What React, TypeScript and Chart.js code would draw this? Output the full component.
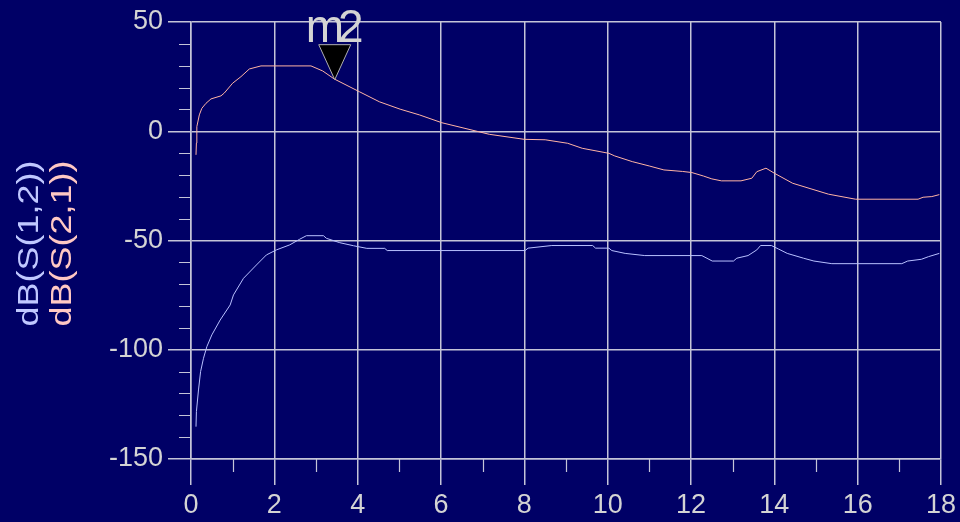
import React, { useEffect, useRef } from "react";
import { Chart, registerables } from "chart.js";

Chart.register(...registerables);

// ---- data (frequency in GHz, magnitude in dB) ----
const s21Freq = [0.12, 0.13, 0.14, 0.2, 0.26, 0.36, 0.48, 0.72, 0.8, 1.0, 1.2, 1.4, 1.68, 2.88, 3.16, 3.44, 4.04, 4.52, 5.02, 5.48, 6.02, 7.16, 8.0, 8.5, 9.04, 9.39, 10.03, 10.17, 10.59, 11.0, 11.35, 11.8, 12.02, 12.3, 12.5, 12.73, 13.2, 13.46, 13.58, 13.8, 14.0, 14.44, 15.3, 15.95, 17.45, 17.57, 17.78, 17.96];
const s21Db = [-10.8, -5.4, 2.1, 7.5, 10.5, 12.8, 14.8, 16.2, 17.5, 22.0, 25.0, 28.5, 29.9, 29.9, 27.6, 23.9, 18.1, 13.5, 10.1, 7.5, 3.9, -1.4, -3.7, -3.9, -5.5, -7.8, -10.1, -11.3, -13.9, -15.9, -17.7, -18.4, -18.9, -20.5, -21.8, -22.7, -22.7, -21.5, -18.5, -16.9, -19.2, -23.8, -28.8, -31.1, -31.1, -30.2, -29.9, -29.0];

const s12Freq = [0.12, 0.13, 0.18, 0.23, 0.3, 0.38, 0.5, 0.7, 0.94, 1.02, 1.26, 1.57, 1.81, 2.05, 2.37, 2.61, 2.77, 3.18, 3.25, 3.57, 3.9, 4.22, 4.65, 4.71, 8.02, 8.09, 8.66, 9.64, 9.71, 10.03, 10.1, 10.42, 10.89, 12.26, 12.51, 13.02, 13.1, 13.37, 13.58, 13.67, 13.93, 14.1, 14.31, 14.7, 14.95, 15.38, 17.06, 17.2, 17.53, 17.7, 17.96];
const s12Db = [-135.2, -128.3, -118.4, -110.0, -103.9, -98.6, -93.2, -86.4, -79.5, -74.9, -67.3, -61.2, -56.6, -54.3, -52.0, -49.4, -47.8, -47.8, -49.0, -51.0, -52.4, -53.6, -53.6, -54.6, -54.6, -53.5, -52.3, -52.3, -53.5, -53.5, -54.6, -55.9, -56.9, -56.9, -59.4, -59.4, -58.1, -56.9, -54.3, -52.3, -52.3, -53.9, -55.9, -58.1, -59.4, -60.6, -60.6, -59.4, -58.6, -57.4, -55.9];

const xTickValues = [0, 2, 4, 6, 8, 10, 12, 14, 16, 18];
const xMinorTicks = [1, 3, 5, 7, 9, 11, 13, 15, 17];
const yTickValues = [50, 0, -50, -100, -150];
const yMinorTicks = [40, 30, 20, 10, -10, -20, -30, -40, -60, -70, -80, -90, -110, -120, -130, -140];

const yTitles = ["dB(S(1,2))", "dB(S(2,1))"];
const markerLabel = "m2";
const markerFreq = 3.45;
const markerDb = 23.6;

// ---- styles ----
const BG = "#000066";
const GRID = "#c4c4d8";
const TEXT = "#d4d4d4";
const S21_COLOR = "#ffb4a4";
const S12_COLOR = "#b8c0ff";
const S21_TITLE = "#ffc8c4";
const S12_TITLE = "#c0c8ff";
const FONT = "'Liberation Sans', Arial, sans-serif";

const decorPlugin = {
  id: "decor",
  beforeDraw(chart: any) {
    const ctx = chart.ctx;
    ctx.save();
    ctx.fillStyle = BG;
    ctx.fillRect(0, 0, chart.width, chart.height);
    ctx.restore();
  },
  afterDraw(chart: any) {
    const ctx = chart.ctx;
    const xs = chart.scales.x;
    const ys = chart.scales.y;
    const area = chart.chartArea;
    ctx.save();
    // minor ticks
    ctx.strokeStyle = GRID;
    ctx.lineWidth = 1.2;
    ctx.beginPath();
    for (const v of yMinorTicks) {
      const y = Math.round(ys.getPixelForValue(v)) + 0.5;
      ctx.moveTo(area.left - 12, y);
      ctx.lineTo(area.left, y);
    }
    for (const v of xMinorTicks) {
      const x = Math.round(xs.getPixelForValue(v)) + 0.5;
      ctx.moveTo(x, area.bottom);
      ctx.lineTo(x, area.bottom + 13);
    }
    ctx.stroke();

    // y axis titles (two colours)
    const cy = (area.top + area.bottom) / 2 + 3;
    const cols = [S12_TITLE, S21_TITLE];
    const cxs = [30, 63];
    ctx.font = `30px ${FONT}`;
    ctx.textAlign = "center";
    ctx.textBaseline = "middle";
    yTitles.forEach((t, i) => {
      ctx.save();
      ctx.translate(cxs[i], cy);
      ctx.rotate(-Math.PI / 2);
      ctx.scale(1.2, 1);
      ctx.fillStyle = cols[i];
      ctx.fillText(t, 0, 0);
      ctx.restore();
    });

    // marker
    const mx = xs.getPixelForValue(markerFreq);
    const my = ys.getPixelForValue(markerDb);
    ctx.beginPath();
    ctx.moveTo(mx, my);
    ctx.lineTo(mx - 16, my - 35);
    ctx.lineTo(mx + 16, my - 35);
    ctx.closePath();
    ctx.fillStyle = "#000000";
    ctx.fill();
    ctx.strokeStyle = "#b0b0b0";
    ctx.lineWidth = 1;
    ctx.stroke();

    ctx.font = `46px ${FONT}`;
    (ctx as any).letterSpacing = "-6px";
    ctx.fillStyle = TEXT;
    ctx.textAlign = "left";
    ctx.textBaseline = "alphabetic";
    ctx.fillText(markerLabel, mx - 29, my - 38);
    ctx.restore();
  },
};

export default function App() {
  const ref = useRef<HTMLCanvasElement | null>(null);

  useEffect(() => {
    document.body.style.margin = "0";
    document.body.style.background = BG;
    const canvas = ref.current;
    if (!canvas) return;
    const chart = new Chart(canvas, {
      type: "line",
      data: {
        datasets: [
          {
            label: "dB(S(2,1))",
            data: s21Freq.map((f, i) => ({ x: f, y: s21Db[i] })),
            borderColor: S21_COLOR,
            borderWidth: 1,
            pointRadius: 0,
            tension: 0,
            fill: false,
          },
          {
            label: "dB(S(1,2))",
            data: s12Freq.map((f, i) => ({ x: f, y: s12Db[i] })),
            borderColor: S12_COLOR,
            borderWidth: 1,
            pointRadius: 0,
            tension: 0,
            fill: false,
          },
        ],
      },
      options: {
        animation: false,
        responsive: false,
        maintainAspectRatio: false,
        devicePixelRatio: 1,
        layout: { padding: { top: 22, right: 18, left: 0, bottom: 0 } },
        plugins: {
          legend: { display: false },
          tooltip: { enabled: false },
          title: { display: false },
        },
        scales: {
          x: {
            type: "linear",
            min: 0,
            max: 18,
            afterFit: (s: any) => {
              s.height = 63;
            },
            afterBuildTicks: (s: any) => {
              s.ticks = xTickValues.map((v) => ({ value: v }));
            },
            ticks: {
              color: TEXT,
              font: { family: FONT, size: 27 },
              padding: 4,
              maxRotation: 0,
              autoSkip: false,
            },
            grid: { color: GRID, lineWidth: 1.5, drawTicks: true, tickLength: 26, tickColor: GRID },
            border: { display: true, color: GRID, width: 1.5 },
          },
          y: {
            type: "linear",
            min: -150,
            max: 50,
            afterFit: (s: any) => {
              s.width = 191;
            },
            afterBuildTicks: (s: any) => {
              s.ticks = yTickValues.map((v) => ({ value: v }));
            },
            ticks: {
              color: TEXT,
              font: { family: FONT, size: 27 },
              padding: 5,
              autoSkip: false,
            },
            grid: { color: GRID, lineWidth: 1.5, drawTicks: true, tickLength: 23, tickColor: GRID },
            border: { display: true, color: GRID, width: 1.5 },
          },
        },
      },
      plugins: [decorPlugin],
    } as any);
    return () => chart.destroy();
  }, []);

  return (
    <div style={{ position: "fixed", left: 0, top: 0, width: 960, height: 522, background: BG }}>
      <canvas ref={ref} width={960} height={522} style={{ display: "block", width: 960, height: 522 }} />
    </div>
  );
}
